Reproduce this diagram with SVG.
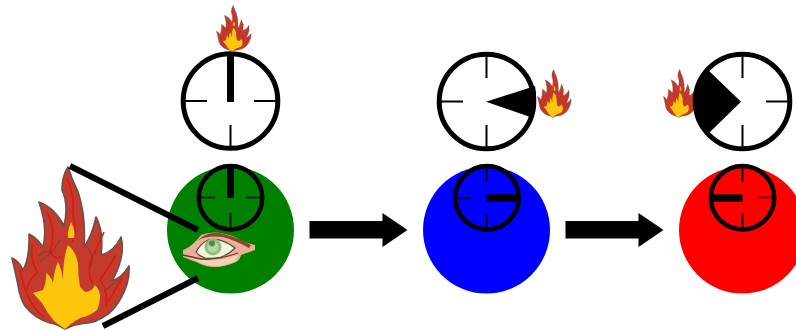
<svg xmlns="http://www.w3.org/2000/svg" xmlns:xlink="http://www.w3.org/1999/xlink" width="796" height="330" viewBox="0 0 796 330">
<style>
.face{fill:#fff;stroke:#000;stroke-width:5}
.tick{stroke:#000;stroke-width:2;fill:none}
.thin{stroke:#000;stroke-width:1.7;fill:none}
.small{fill:none;stroke:#000;stroke-width:4.5}
.wire{stroke:#000;stroke-width:6;fill:none}
.solid{fill:#000}
</style>
<defs>
<filter id="soft" x="-5%" y="-5%" width="110%" height="110%"><feGaussianBlur stdDeviation="0.45"/></filter>
<symbol id="flame" viewBox="10 165 122 166" preserveAspectRatio="none">
<path fill="#c43b2d" stroke="#70504c" stroke-width="1.7" stroke-linejoin="round" d="M65 329 Q57 324 50 323 Q34 318 25 306 Q20 298 18 285 Q15 270 12 258 Q19 261 23 270 Q30 258 29 234 Q37 238 43 247 Q48 228 39 202 Q55 208 64 226 Q69 205 62 190 Q62 176 68 167 Q72 180 78 192 Q86 215 84 247 Q92 236 96 217 Q104 232 101 255 Q114 252 121 237 Q126 256 112 281 Q122 278 129 266 Q130 282 121 298 Q113 312 105 316 Q96 322 88 323 Q78 324 72 326 Z"/>
<path fill="none" stroke="#d81a10" stroke-width="1.6" d="M67 178 Q75 195 73 216 Q78 232 72 242M47 212 Q57 232 50 252 Q58 262 60 256M32 245 Q30 262 38 272 Q28 280 26 292M20 270 Q24 290 30 300 Q36 312 44 317M104 232 Q96 250 90 262 Q88 275 92 284M116 255 Q106 272 100 280 Q108 290 106 306M122 278 Q114 292 108 302"/>
<path fill="none" stroke="#7a3a30" stroke-width="1" d="M86 246 Q96 256 90 268M38 256 Q44 250 50 252M104 292 Q112 284 118 280M60 240 Q54 252 40 262"/>
<path fill="#fcc60f" d="M33 293 L43 290 Q47 282 46 273 Q51 276 53 283 Q54 270 58 262 Q62 270 63 280 Q63 258 68 245 Q76 252 78 263 Q78 276 80 287 L85 292 Q92 292 95 285 Q100 290 100 297 Q100 304 97 310 Q90 316 80 318 L72 323 L65 329 L55 322 L48 313 L42 303 Z"/>
<path fill="#fcc60f" d="M71 222 Q76 232 74 238 L68 238 Q67 232 71 222Z"/>
</symbol>
</defs>
<rect width="796" height="330" fill="#fff"/>
<g id="node-green">
<circle cx="230.5" cy="230" r="63.5" fill="#008000"/>
<circle class="small" cx="230.5" cy="197.8" r="31.7"/>
<path class="thin" d="M200 197.5H215M246 197.5H262M230.5 213V229"/>
<rect class="solid" x="227" y="165" width="7" height="33"/>
<g id="eye" filter="url(#soft)">
<path fill="#e8b097" d="M183 250 Q192 247 201 235 Q215 229 235 237 Q245 243 255 245 L255 250 L241 255 Q240 260 236 262 Q225 267 215 267 Q205 267 196 262 L183 257Z"/>
<path fill="#f4d2b6" d="M186 256 L196 259 Q215 263 238 255 L236 261 Q225 266 215 266 Q205 266 197 261Z"/>
<path fill="#8a4a2e" d="M198 240 Q208 231 220 233 Q235 236 251 245 L249 248 Q235 240 222 237 Q208 235 198 240Z"/>
<path fill="#eef6de" stroke="#5d4a34" stroke-width="1.2" d="M196 252 Q201 243 208 240 Q221 237 235 248 Q228 255 221 257 Q212 259 205 258 Q199 256 196 252Z"/>
<circle cx="213" cy="247" r="8.5" fill="#8fc07a"/>
<circle cx="213" cy="247" r="5.5" fill="#b4d89a"/>
<circle cx="212" cy="243.5" r="3" fill="#5a7f64"/>
<path fill="none" stroke="#6a3c28" stroke-width="1.3" d="M183 255 L196 258 Q212 262 238 253"/>
</g>
</g>
<g id="node-blue">
<circle cx="486.5" cy="230" r="63.5" fill="#0000ff"/>
<circle class="small" cx="487" cy="197.8" r="31.7"/>
<path class="thin" d="M456 198H471M486.500 166V182M486.500 213V229"/>
<rect class="solid" x="486.500" y="194.300" width="32" height="7.400"/>
</g>
<g id="node-red">
<circle cx="742.5" cy="230" r="63.5" fill="#ff0000"/>
<circle class="small" cx="742.5" cy="197.8" r="31.7"/>
<path class="thin" d="M742.500 166V182M758 197.500H774M742.500 213V229"/>
<rect class="solid" x="711" y="194.300" width="31.500" height="7.400"/>
</g>
<g id="clock-1">
<circle class="face" cx="230.5" cy="101" r="47.3"/>
<path class="tick" d="M185 101H207M254 101H277M230.500 125V148"/>
<rect class="solid" x="227" y="53" width="7" height="49"/>
</g>
<g id="clock-2">
<circle class="face" cx="486.5" cy="101.5" r="47.3"/>
<path class="tick" d="M440 101.500H463M486.500 55V78M486.500 125V148"/>
<path class="solid" d="M486 101.700 L535 86 Q538 102 533 118Z"/>
</g>
<g id="clock-3">
<use xlink:href="#flame" href="#flame" x="663" y="69" width="35" height="49" filter="url(#soft)"/>
<circle class="face" cx="742.5" cy="101.5" r="47.3"/>
<path class="tick" d="M742.500 55V78M766 101.500H790M742.500 125V148"/>
<path class="solid" d="M741 101.700 L708 70 Q694 85 694 102 Q694 118 708 134Z"/>
</g>
<g id="flame-top"><use xlink:href="#flame" href="#flame" x="216" y="5" width="36" height="47" filter="url(#soft)"/></g>
<g id="flame-mid"><use xlink:href="#flame" href="#flame" x="537" y="69" width="35" height="49" filter="url(#soft)"/></g>
<g id="flame-big"><use xlink:href="#flame" href="#flame" x="10" y="165" width="122" height="166" filter="url(#soft)"/></g>
<g id="connectors">
<path class="wire" d="M70 166L198 230M103 326L198 278"/>
<path class="solid" d="M309.500 221H382.500V213L407.500 230L382.500 247V238.500H309.500Z"/>
<path class="solid" d="M565.500 221H638.500V213L663.500 230L638.500 247V238.500H565.500Z"/>
</g>
</svg>
